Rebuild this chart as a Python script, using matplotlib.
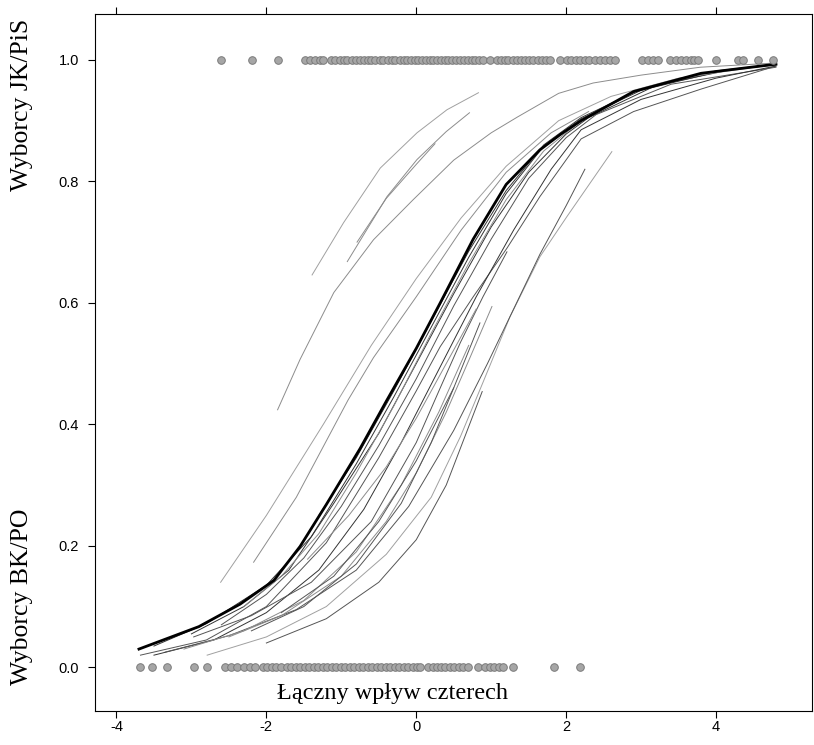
import matplotlib
matplotlib.use("Agg")
import matplotlib.pyplot as plt
import numpy as np

plt.rcParams["axes.unicode_minus"] = False

# observed outcomes (points on y=1 and y=0)
TOP_X = [-2.61, -2.19, -1.85, -1.48, -1.42, -1.35, -1.29, -1.24, -1.14, -1.09, -1.02, -0.97,
         -0.92, -0.86, -0.80, -0.75, -0.70, -0.64, -0.60, -0.55, -0.49, -0.44, -0.38, -0.33,
         -0.28, -0.22, -0.17, -0.12, -0.07, -0.02, 0.03, 0.08, 0.13, 0.18, 0.23, 0.28, 0.33,
         0.38, 0.43, 0.48, 0.53, 0.58, 0.64, 0.69, 0.74, 0.79, 0.84, 0.89, 0.99, 1.08, 1.13,
         1.18, 1.23, 1.29, 1.34, 1.40, 1.45, 1.50, 1.56, 1.62, 1.68, 1.73, 1.79, 1.92, 2.01,
         2.07, 2.13, 2.19, 2.25, 2.31, 2.38, 2.45, 2.52, 2.58, 2.65, 3.01, 3.09, 3.16, 3.23,
         3.39, 3.46, 3.53, 3.60, 3.66, 3.70, 3.76, 4.00, 4.29, 4.36, 4.56, 4.76]
BOTTOM_X = [-3.68, -3.52, -3.32, -2.97, -2.79, -2.55, -2.47, -2.39, -2.30, -2.22, -2.15, -2.05,
            -1.99, -1.93, -1.87, -1.80, -1.73, -1.67, -1.61, -1.55, -1.49, -1.43, -1.37, -1.31,
            -1.25, -1.19, -1.13, -1.07, -1.01, -0.95, -0.89, -0.83, -0.77, -0.71, -0.65, -0.59,
            -0.53, -0.47, -0.41, -0.35, -0.29, -0.23, -0.17, -0.11, -0.05, 0.01, 0.05, 0.16,
            0.22, 0.28, 0.33, 0.39, 0.45, 0.51, 0.57, 0.63, 0.69, 0.83, 0.92, 0.98, 1.04, 1.10,
            1.16, 1.29, 1.84, 2.19]

# main fitted curve
K_X = [-3.70, -2.90, -2.35, -1.90, -1.55, -1.20, -0.75, -0.40, 0.00, 0.32, 0.76, 1.20, 1.65, 1.92, 2.20, 2.90, 3.80, 4.80]
K_Y = [0.030, 0.067, 0.104, 0.143, 0.199, 0.268, 0.360, 0.438, 0.525, 0.600, 0.705, 0.795, 0.852, 0.877, 0.900, 0.948, 0.978, 0.993]

# group curves close to the main one
K2_X = [-3.50, -2.80, -2.00, -1.40, -0.80, -0.30, 0.20, 0.70, 1.20, 1.70, 2.20, 3.00, 4.00, 4.80]
K2_Y = [0.035, 0.072, 0.135, 0.215, 0.335, 0.445, 0.560, 0.675, 0.780, 0.858, 0.903, 0.950, 0.980, 0.993]
K3_X = [-3.00, -2.30, -1.70, -1.10, -0.50, 0.00, 0.50, 1.00, 1.50, 2.00, 2.30, 3.20, 4.20, 4.80]
K3_Y = [0.055, 0.100, 0.160, 0.270, 0.385, 0.500, 0.615, 0.725, 0.815, 0.878, 0.905, 0.958, 0.984, 0.992]
K4_X = [-2.60, -2.00, -1.50, -1.00, -0.50, 0.00, 0.50, 1.00, 1.50, 2.00, 2.40, 3.40, 4.80]
K4_Y = [0.070, 0.120, 0.180, 0.265, 0.365, 0.475, 0.595, 0.705, 0.805, 0.872, 0.910, 0.960, 0.988]
K5_X = [-2.30, -1.80, -1.30, -0.80, -0.30, 0.20, 0.70, 1.20, 1.70, 2.20]
K5_Y = [0.100, 0.150, 0.220, 0.320, 0.430, 0.550, 0.665, 0.770, 0.850, 0.900]
K6_X = [-1.30, -0.80, -0.30, 0.20, 0.70, 1.20, 1.70, 2.20, 3.00, 4.00, 4.80]
K6_Y = [0.250, 0.345, 0.455, 0.570, 0.685, 0.785, 0.860, 0.905, 0.952, 0.982, 0.993]
M1_X = [-3.68, -2.80, -2.00, -1.20, -0.50, 0.00, 0.32, 0.76, 1.21, 1.65, 2.20, 2.90, 3.80, 4.80]
M1_Y = [0.020, 0.045, 0.100, 0.205, 0.345, 0.455, 0.528, 0.610, 0.690, 0.775, 0.870, 0.915, 0.952, 0.990]
M2_X = [-3.50, -2.70, -2.00, -1.30, -0.70, -0.20, 0.30, 0.80, 1.30, 1.80, 2.20, 3.00, 4.00, 4.80]
M2_Y = [0.020, 0.045, 0.090, 0.160, 0.260, 0.370, 0.490, 0.610, 0.720, 0.820, 0.885, 0.935, 0.970, 0.990]

# upper-left curves
A1_X = [-1.39, -0.97, -0.48, 0.01, 0.41, 0.83]
A1_Y = [0.646, 0.732, 0.822, 0.880, 0.918, 0.946]
A2_X = [-0.92, -0.39, 0.01, 0.40, 0.71]
A2_Y = [0.668, 0.775, 0.836, 0.882, 0.913]
A3_X = [-0.79, -0.40, 0.00, 0.25]
A3_Y = [0.700, 0.772, 0.828, 0.862]
U1_X = [-1.85, -1.55, -1.10, -0.57, -0.04, 0.50, 1.00, 1.35, 1.90, 2.36, 3.00, 3.79, 4.80]
U1_Y = [0.424, 0.507, 0.617, 0.704, 0.770, 0.835, 0.880, 0.906, 0.945, 0.962, 0.975, 0.988, 0.995]
U2_X = [-2.61, -2.00, -1.24, -0.60, 0.00, 0.60, 1.20, 1.90, 2.60, 3.50, 4.80]
U2_Y = [0.140, 0.250, 0.400, 0.530, 0.640, 0.740, 0.825, 0.900, 0.940, 0.970, 0.993]
U3_X = [-2.17, -1.60, -0.91, -0.57, 0.00, 0.60, 1.20, 1.80, 2.30]
U3_Y = [0.173, 0.280, 0.440, 0.510, 0.610, 0.720, 0.815, 0.880, 0.915]

# lower-right curves
L1_X = [-2.79, -2.00, -1.20, -0.40, 0.20, 0.59, 0.89, 1.25, 1.65, 2.01, 2.61]
L1_Y = [0.020, 0.050, 0.100, 0.186, 0.280, 0.380, 0.469, 0.577, 0.676, 0.742, 0.849]
L2_X = [-3.35, -2.50, -1.60, -0.80, -0.10, 0.50, 0.95, 1.30, 1.65, 2.00, 2.25]
L2_Y = [0.025, 0.052, 0.095, 0.160, 0.265, 0.390, 0.500, 0.590, 0.680, 0.760, 0.820]
L3_X = [-2.97, -2.20, -1.40, -0.60, 0.00, 0.32, 0.59, 0.89, 1.21]
L3_Y = [0.050, 0.085, 0.140, 0.240, 0.370, 0.460, 0.535, 0.610, 0.684]
L4_X = [-2.50, -1.80, -1.00, -0.40, 0.00, 0.40, 0.70, 1.01]
L4_Y = [0.050, 0.085, 0.150, 0.240, 0.320, 0.420, 0.505, 0.594]
L5_X = [-2.20, -1.50, -0.80, -0.20, 0.20, 0.50, 0.85]
L5_Y = [0.060, 0.100, 0.170, 0.270, 0.370, 0.460, 0.567]
L6_X = [-2.00, -1.20, -0.50, 0.00, 0.40, 0.88]
L6_Y = [0.040, 0.080, 0.140, 0.210, 0.300, 0.454]
L7_X = [-3.10, -2.30, -1.50, -0.80, -0.20, 0.30, 0.70]
L7_Y = [0.030, 0.060, 0.110, 0.190, 0.300, 0.420, 0.530]
L8_X = [-1.80, -1.10, -0.50, 0.00, 0.50]
L8_Y = [0.090, 0.150, 0.240, 0.340, 0.460]
L9_X = [-1.45, -0.90, -0.40, 0.00, 0.40, 0.80]
L9_Y = [0.178, 0.250, 0.330, 0.410, 0.500, 0.590]

X_TICKS = [-4, -2, 0, 2, 4]
Y_TICKS = [0.0, 0.2, 0.4, 0.6, 0.8, 1.0]

DARK = "#333333"
MID = "#555555"
GREY = "#8c8c8c"
LIGHT = "#a0a0a0"

fig = plt.figure(figsize=(8.14, 7.45), dpi=100)
ax = fig.add_axes([0.1173, 0.0456, 0.8802, 0.9351])

thin_curves = [
    (K2_X, K2_Y, DARK), (K3_X, K3_Y, DARK), (K4_X, K4_Y, MID), (K5_X, K5_Y, GREY),
    (K6_X, K6_Y, DARK), (M1_X, M1_Y, MID), (M2_X, M2_Y, DARK),
    (A1_X, A1_Y, LIGHT), (A2_X, A2_Y, GREY), (A3_X, A3_Y, GREY),
    (U1_X, U1_Y, GREY), (U2_X, U2_Y, LIGHT), (U3_X, U3_Y, GREY),
    (L1_X, L1_Y, LIGHT), (L2_X, L2_Y, MID), (L3_X, L3_Y, MID), (L4_X, L4_Y, GREY),
    (L5_X, L5_Y, MID), (L6_X, L6_Y, MID), (L7_X, L7_Y, GREY), (L8_X, L8_Y, MID),
    (L9_X, L9_Y, GREY),
]
for xs, ys, col in thin_curves:
    ax.plot(xs, ys, color=col, linewidth=0.7, zorder=2)
ax.plot(K_X, K_Y, color="black", linewidth=2.0, zorder=3)

ax.scatter(TOP_X, np.ones(len(TOP_X)), s=30, facecolor="#a6a6a6", edgecolor="#7a7a7a",
           linewidth=0.7, zorder=4)
ax.scatter(BOTTOM_X, np.zeros(len(BOTTOM_X)), s=30, facecolor="#a6a6a6", edgecolor="#7a7a7a",
           linewidth=0.7, zorder=4)

ax.set_xlim(-4.28, 5.28)
ax.set_ylim(-0.072, 1.075)
ax.set_xticks(X_TICKS)
ax.set_xticklabels([str(t) for t in X_TICKS])
ax.set_yticks(Y_TICKS)
ax.set_yticklabels([f"{t:.1f}" for t in Y_TICKS])
ax.tick_params(axis="x", direction="out", length=5, width=0.8, top=True, labeltop=False,
               pad=1.5, labelsize=10.5)
ax.tick_params(axis="y", direction="out", length=5, width=0.8, right=False, pad=7,
               labelsize=10.5)
for lab in ax.get_xticklabels() + ax.get_yticklabels():
    lab.set_family("Liberation Sans")
for sp in ax.spines.values():
    sp.set_linewidth(0.8)

ax.text(-0.32, -0.043, "Łączny wpływ czterech", ha="center", va="center",
        family="Liberation Serif", fontsize=17.5)
fig.text(0.027, 0.859, "Wyborcy JK/PiS", rotation=90, ha="center", va="center",
         family="Liberation Serif", fontsize=18.5)
fig.text(0.027, 0.199, "Wyborcy BK/PO", rotation=90, ha="center", va="center",
         family="Liberation Serif", fontsize=18.5)

fig.savefig("out.png", dpi=100)
